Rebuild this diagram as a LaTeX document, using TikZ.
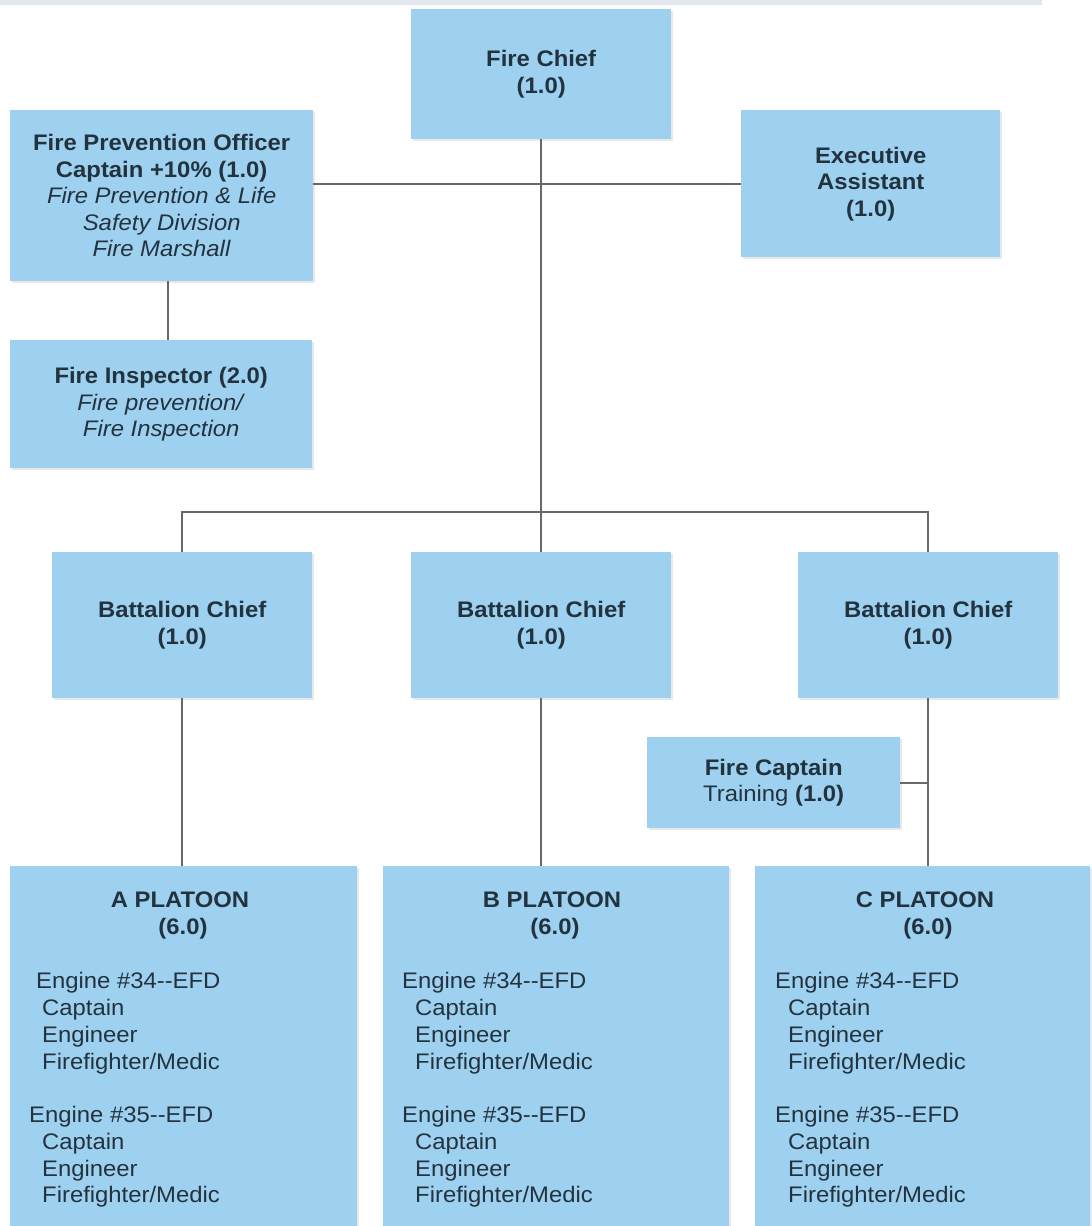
\documentclass[tikz,border=0pt]{standalone}
\usepackage{fontspec}
\setmainfont{Liberation Sans}[FakeStretch=1.06]
\usetikzlibrary{shadows}
\definecolor{boxblue}{HTML}{9ED1EF}
\definecolor{txtcol}{HTML}{23323F}
\definecolor{linecol}{HTML}{686868}
\definecolor{topband}{HTML}{E2E6EE}
\newcommand\orgfont{\fontsize{22.5}{26.5}\selectfont}
\tikzset{
  orgbox/.style={fill=boxblue, draw=none, anchor=north west, inner sep=0pt,
    align=center, text=txtcol, font=\orgfont,
    drop shadow={shadow xshift=1.5pt, shadow yshift=-1.5pt, opacity=0.18}},
  conn/.style={draw=linecol, line width=1.6pt},
  listline/.style={anchor=base west, inner sep=0pt, text=txtcol, font=\orgfont},
  titleline/.style={anchor=base, inner sep=0pt, text=txtcol, font=\orgfont\bfseries},
}
\newcommand\platoonlines[5]{%
  \node[titleline] (#1t1) at (#2,907) {#1 PLATOON};
  \node[titleline] (#1t2) at (#2+3,934) {(6.0)};
  \node[listline] (#1e34) at (#3,988) {Engine \#34-{}-EFD};
  \node[listline] (#1ca) at (#5,1015) {Captain};
  \node[listline] (#1ea) at (#5,1042) {Engineer};
  \node[listline] (#1fa) at (#5,1069) {Firefighter/Medic};
  \node[listline] (#1e35) at (#4,1122) {Engine \#35-{}-EFD};
  \node[listline] (#1cb) at (#5,1149) {Captain};
  \node[listline] (#1eb) at (#5,1176) {Engineer};
  \node[listline] (#1fb) at (#5,1202) {Firefighter/Medic};
}
\begin{document}
\begin{tikzpicture}[x=1pt,y=-1pt]
\useasboundingbox (0,0) rectangle (1092,1226);
\fill[topband] (0,0) rectangle (1042,5);

% boxes
\node[orgbox, minimum width=260pt, minimum height=130pt] (chief) at (411,9)
  {\textbf{Fire Chief}\\\textbf{(1.0)}};
\node[orgbox, minimum width=303pt, minimum height=171pt] (fpo) at (10,110)
  {\textbf{Fire Prevention Officer}\\\textbf{Captain +10\% (1.0)}\\\textit{Fire Prevention \& Life}\\\textit{Safety Division}\\\textit{Fire Marshall}};
\node[orgbox, minimum width=259pt, minimum height=147pt] (ea) at (741,110)
  {\textbf{Executive}\\\textbf{Assistant}\\\textbf{(1.0)}};
\node[orgbox, minimum width=302pt, minimum height=128pt] (insp) at (10,340)
  {\textbf{Fire Inspector (2.0)}\\\textit{Fire prevention/}\\\textit{Fire Inspection}};
\node[orgbox, minimum width=260pt, minimum height=146pt] (bcA) at (52,552)
  {\textbf{Battalion Chief}\\\textbf{(1.0)}};
\node[orgbox, minimum width=260pt, minimum height=146pt] (bcB) at (411,552)
  {\textbf{Battalion Chief}\\\textbf{(1.0)}};
\node[orgbox, minimum width=260pt, minimum height=146pt] (bcC) at (798,552)
  {\textbf{Battalion Chief}\\\textbf{(1.0)}};
\node[orgbox, minimum width=253pt, minimum height=91pt] (cap) at (647,737)
  {\textbf{Fire Captain}\\Training \textbf{(1.0)}};
\node[orgbox, minimum width=347pt, minimum height=370pt] (pltA) at (10,866) {};
\node[orgbox, minimum width=346pt, minimum height=370pt] (pltB) at (383,866) {};
\node[orgbox, minimum width=335pt, minimum height=370pt] (pltC) at (755,866) {};

% platoon texts
\platoonlines{A}{180}{36}{29}{42}
\platoonlines{B}{552}{402}{402}{415}
\platoonlines{C}{925}{775}{775}{788}

% connectors
\draw[conn] (chief.south) -- (bcB.north);
\draw[conn] (fpo.east |- ea.west) -- (ea.west);
\draw[conn] ([xshift=6pt]fpo.south) -- ([xshift=6pt]fpo.south |- insp.north);
\draw[conn] (bcA.north) -- ++(0,-40) -| (bcC.north);
\draw[conn] (bcA.south) -- (bcA.south |- pltA.north);
\draw[conn] (bcB.south) -- (bcB.south |- pltB.north);
\draw[conn] (bcC.south) -- (bcC.south |- pltC.north);
\draw[conn] (cap.east) -- (cap.east -| bcC.south);
\end{tikzpicture}
\end{document}
